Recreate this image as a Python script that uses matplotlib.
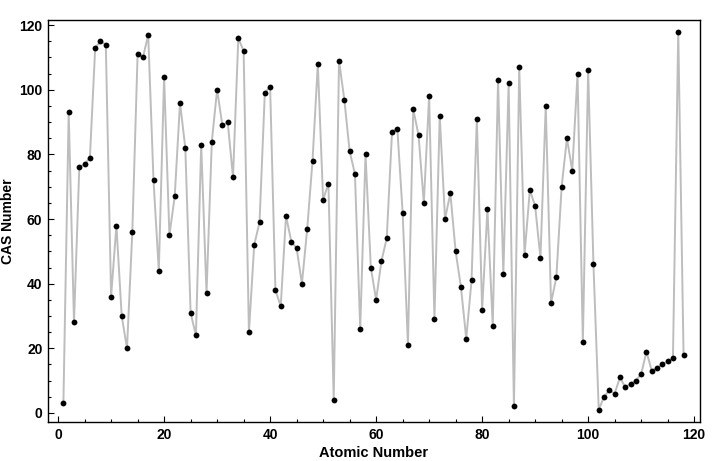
import matplotlib
matplotlib.use('Agg')
import matplotlib.pyplot as plt
from matplotlib.ticker import MultipleLocator

atomic_number = list(range(1, 119))
cas_number = [3, 93, 28, 76, 77, 79, 113, 115, 114, 36,
              58, 30, 20, 56, 111, 110, 117, 72, 44, 104,
              55, 67, 96, 82, 31, 24, 83, 37, 84, 100,
              89, 90, 73, 116, 112, 25, 52, 59, 99, 101,
              38, 33, 61, 53, 51, 40, 57, 78, 108, 66,
              71, 4, 109, 97, 81, 74, 26, 80, 45, 35,
              47, 54, 87, 88, 62, 21, 94, 86, 65, 98,
              29, 92, 60, 68, 50, 39, 23, 41, 91, 32,
              63, 27, 103, 43, 102, 2, 107, 49, 69, 64,
              48, 95, 34, 42, 70, 85, 75, 105, 22, 106,
              46, 1, 5, 7, 6, 11, 8, 9, 10, 12,
              19, 13, 14, 15, 16, 17, 118, 18]

plt.rcParams['font.family'] = ['Liberation Sans', 'DejaVu Sans']
plt.rcParams['font.weight'] = 'bold'

fig = plt.figure(figsize=(7.2, 4.61), dpi=100)
ax = fig.add_axes([0.0667, 0.0846, 0.9055, 0.872])

ax.plot(atomic_number, cas_number, color='#bdbdbd', lw=1.4, zorder=1)
ax.plot(atomic_number, cas_number, 'o', color='black', ms=4.2, mec='none', zorder=2)

ax.set_xlim(-1.9, 121.1)
ax.set_ylim(-2.8, 121.6)
ax.xaxis.set_major_locator(MultipleLocator(20))
ax.xaxis.set_minor_locator(MultipleLocator(5))
ax.yaxis.set_major_locator(MultipleLocator(20))
ax.yaxis.set_minor_locator(MultipleLocator(5))
ax.tick_params(which='both', direction='in', top=False, right=False, labelsize=10, width=0.8)
ax.tick_params(which='major', length=4, pad=4)
ax.tick_params(which='minor', length=2.5)
for lbl in ax.get_xticklabels() + ax.get_yticklabels():
    lbl.set_fontweight('bold')
for s in ax.spines.values():
    s.set_linewidth(1.0)

ax.set_xlabel('Atomic Number', fontsize=10.5, fontweight='bold', labelpad=3)
ax.set_ylabel('CAS Number', fontsize=10, fontweight='bold')
ax.yaxis.set_label_coords(-0.05, 0.5)

fig.savefig('out.png', dpi=100)
